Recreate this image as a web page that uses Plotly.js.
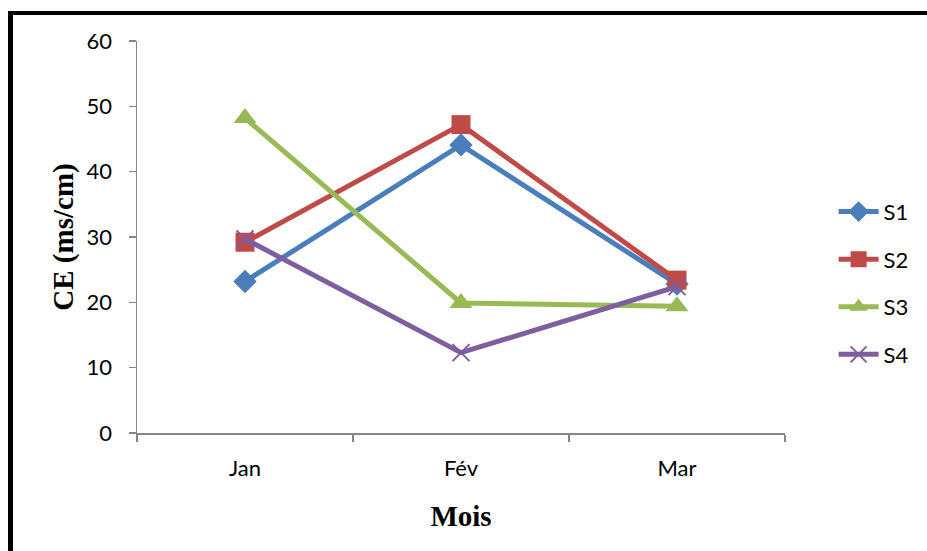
<!DOCTYPE html>
<html>
<head>
<meta charset="utf-8">
<script src="https://cdn.plot.ly/plotly-3.0.1.min.js"></script>
<style>
  html, body { margin: 0; padding: 0; background: #fff; }
  #wrap { position: relative; width: 927px; height: 551px; overflow: hidden; }
  #chart { position: absolute; left: 0; top: 0; width: 927px; height: 551px; }
  #frame { position: absolute; left: 8px; top: 11px; width: 940px; height: 560px;
           border-left: 5px solid #000; border-top: 4px solid #000; pointer-events: none; }
</style>
</head>
<body>
<div id="wrap">
  <div id="chart"></div>
  <div id="frame"></div>
</div>
<script>
// Conductivité électrique mensuelle par station
const months = ['Jan', 'Fév', 'Mar'];
const s1 = [23.2, 44.1, 22.8];
const s2 = [29.2, 47.2, 23.4];
const s3 = [48.2, 19.9, 19.4];
const s4 = [29.7, 12.3, 22.4];
const seriesNames = ['S1', 'S2', 'S3', 'S4'];
const yTicks = [0, 10, 20, 30, 40, 50, 60];

const colors = ['#4a7ebb', '#be4b48', '#98b954', '#7d5fa0'];
const symbols = ['diamond', 'square', 'triangle-up', 'x-thin-open'];
const sizes = [18, 19, 20, 17];

const traces = [s1, s2, s3, s4].map((vals, i) => ({
  x: months,
  y: vals,
  name: seriesNames[i],
  legendgroup: seriesNames[i],
  type: 'scatter',
  mode: 'lines+markers',
  line: { color: colors[i], width: 5 },
  marker: {
    symbol: symbols[i],
    size: sizes[i],
    color: colors[i],
    line: { color: colors[i], width: i === 3 ? 2 : 0 }
  }
}));

const tickFont = { family: 'Lato, "Open Sans", sans-serif', size: 22, color: '#000' };
const titleFont = { family: '"Liberation Serif", "Times New Roman", serif', size: 29, color: '#000', weight: 'bold' };

const layout = {
  width: 927,
  height: 551,
  margin: { l: 137, r: 142, t: 41, b: 118 },
  paper_bgcolor: '#fff',
  plot_bgcolor: '#fff',
  showlegend: true,
  legend: {
    x: 1.075, xanchor: 'left',
    y: 0.382, yanchor: 'middle',
    font: tickFont,
    tracegroupgap: 16,
    itemwidth: 40,
    bgcolor: 'rgba(0,0,0,0)'
  },
  xaxis: {
    type: 'category',
    range: [-0.5, 2.5],
    showgrid: false,
    zeroline: false,
    showline: true,
    linecolor: '#868686',
    linewidth: 1.5,
    ticks: 'outside',
    tickson: 'boundaries',
    ticklen: 7,
    tickcolor: '#868686',
    tickwidth: 1.5,
    tickfont: tickFont,
    ticklabelstandoff: 15,
    title: { text: 'Mois', font: titleFont, standoff: 26 }
  },
  yaxis: {
    range: [0, 60],
    tickvals: yTicks,
    showgrid: false,
    zeroline: false,
    showline: true,
    linecolor: '#868686',
    linewidth: 1.5,
    ticks: 'outside',
    ticklen: 7,
    tickcolor: '#868686',
    tickwidth: 1.5,
    tickfont: tickFont,
    ticklabelstandoff: 12,
    title: { text: 'CE (ms/cm)', font: titleFont, standoff: 4 }
  }
};

Plotly.newPlot('chart', traces, layout, { displayModeBar: false, staticPlot: true });
</script>
</body>
</html>
